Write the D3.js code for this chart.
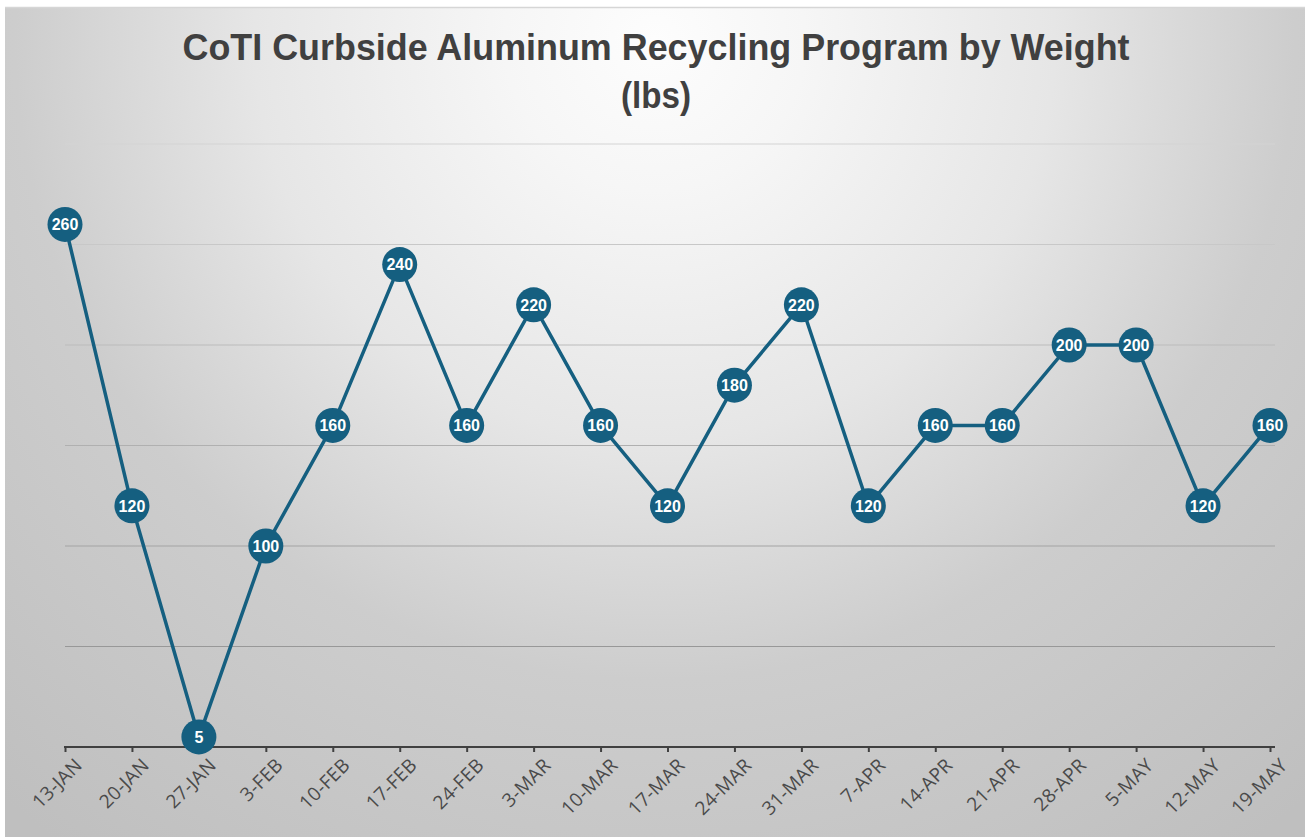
<!DOCTYPE html>
<html><head><meta charset="utf-8">
<script src="https://cdn.jsdelivr.net/npm/d3@7"></script>
<style>body{margin:0;background:#fff}svg{display:block}</style>
</head><body>
<svg id="c" width="1307" height="837"></svg>
<script>
const categories = ["13-JAN","20-JAN","27-JAN","3-FEB","10-FEB","17-FEB","24-FEB","3-MAR","10-MAR","17-MAR","24-MAR","31-MAR","7-APR","14-APR","21-APR","28-APR","5-MAY","12-MAY","19-MAY"];
const weights = [260,120,5,100,160,240,160,220,160,120,180,220,120,160,160,200,200,120,160];
const gridTicks = [0,50,100,150,200,250,300];
const titleLines = ["CoTI Curbside Aluminum Recycling Program by Weight","(lbs)"];

const svg = d3.select("#c");
const defs = svg.append("defs");
const rg = defs.append("radialGradient").attr("id","bg").attr("gradientUnits","userSpaceOnUse")
  .attr("cx",655).attr("cy",40).attr("r",1000);
[[0,"#fdfdfd"],[0.15,"#f6f6f6"],[0.4,"#e6e6e6"],[0.64,"#cdcdcd"],[1,"#bfbfbf"]].forEach(s=>rg.append("stop").attr("offset",s[0]).attr("stop-color",s[1]));

svg.append("rect").attr("x",5).attr("y",7).attr("width",1300).attr("height",830).attr("fill","url(#bg)");
svg.append("line").attr("x1",5).attr("x2",1305).attr("y1",7.5).attr("y2",7.5).attr("stroke","#d6d6d6").attr("stroke-width",1.5);

const x = d3.scalePoint().domain(categories).range([65,1270]);
const y = d3.scaleLinear().domain([0,300]).range([747,144]);

// gridlines
const gc = d3.scaleLinear().domain([144,747]).range(["#d4d4d4","#8c8c8c"]);
svg.append("g").selectAll("line").data(gridTicks.filter(d=>d>0)).join("line")
  .attr("x1",65).attr("x2",1275).attr("y1",d=>y(d)).attr("y2",d=>y(d))
  .attr("stroke",d=>gc(y(d))).attr("stroke-width",1.2);

// x axis
const ax = svg.append("g").attr("transform","translate(0,747)")
  .call(d3.axisBottom(x).tickSize(5).tickSizeOuter(0).tickFormat(""));
ax.select(".domain").remove();
ax.append("line").attr("x1",64).attr("x2",1275).attr("y1",0).attr("y2",0).attr("stroke","#404040").attr("stroke-width",2);
ax.selectAll(".tick line").attr("stroke","#404040").attr("stroke-width",2);
svg.append("g").selectAll("text").data(categories).join("text")
  .attr("transform",d=>`translate(${x(d)+9},${757}) rotate(-45)`)
  .attr("text-anchor","end").attr("dy","0.7em")
  .style("font-family","'Open Sans',sans-serif").style("font-size","19px").style("letter-spacing","0.3px").attr("fill","#4a4a4a")
  .text(d=>d);

// title
svg.append("g").selectAll("text").data(titleLines).join("text")
  .attr("x",656).attr("y",(d,i)=>60+i*48).attr("text-anchor","middle")
  .attr("font-family","'Liberation Sans',sans-serif")
  .attr("font-weight","bold").attr("font-size",37).attr("fill","#404040")
  .attr("textLength",(d,i)=>i===0?947:70).attr("lengthAdjust","spacingAndGlyphs")
  .text(d=>d);

// line
const col = "#155f80";
svg.append("path").datum(weights)
  .attr("d",d3.line().x((d,i)=>x(categories[i])).y(d=>y(d)))
  .attr("fill","none").attr("stroke",col).attr("stroke-width",3.5).attr("stroke-linejoin","round");

const pts = svg.append("g").selectAll("g").data(weights).join("g")
  .attr("transform",(d,i)=>`translate(${x(categories[i])},${y(d)})`);
pts.append("circle").attr("r",17.5).attr("fill",col);
pts.append("text").attr("text-anchor","middle").attr("dy","0.36em")
  .attr("font-family","'Liberation Sans',Arial,sans-serif").attr("font-weight","bold").attr("font-size",16)
  .attr("fill","#fff").text(d=>d);
</script>
</body></html>
